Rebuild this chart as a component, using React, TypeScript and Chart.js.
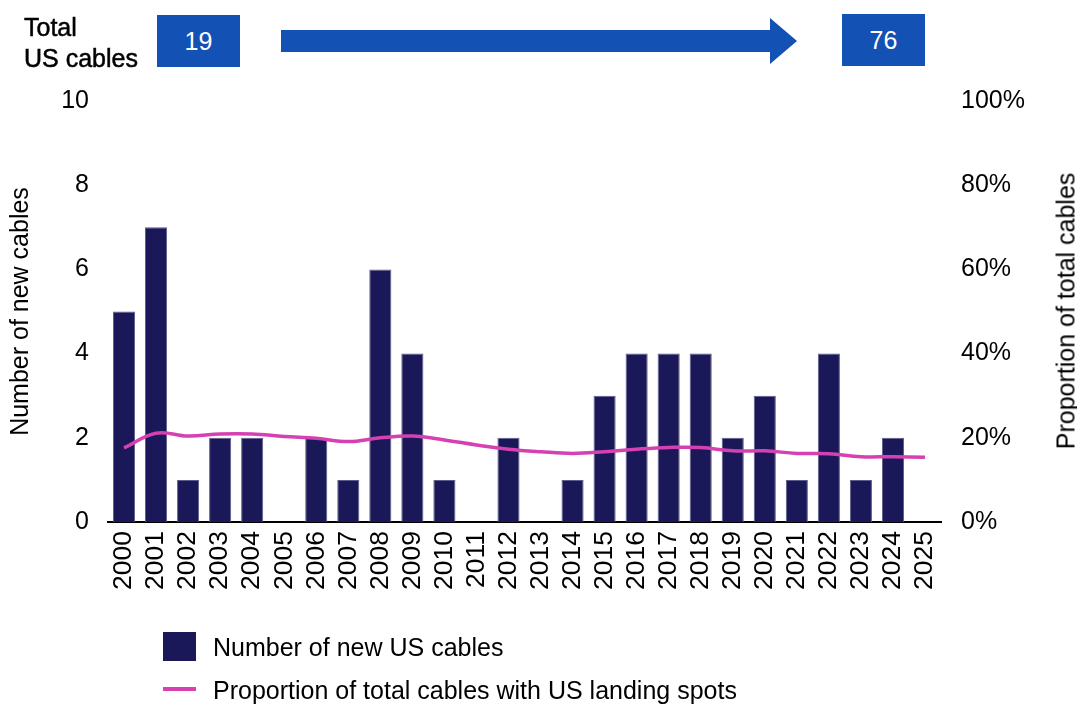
import React, { useEffect, useRef } from "react";
import { Chart, registerables } from "chart.js";

Chart.register(...registerables);

const years: string[] = [
  "2000", "2001", "2002", "2003", "2004", "2005", "2006", "2007", "2008", "2009",
  "2010", "2011", "2012", "2013", "2014", "2015", "2016", "2017", "2018", "2019",
  "2020", "2021", "2022", "2023", "2024", "2025",
];
const newCables: number[] = [5, 7, 1, 2, 2, 0, 2, 1, 6, 4, 1, 0, 2, 0, 1, 3, 4, 4, 4, 2, 3, 1, 4, 1, 2, 0];
const proportionPct: number[] = [
  17.6, 21.1, 20.4, 20.9, 20.9, 20.3, 19.9, 19.1, 20.0, 20.4,
  19.5, 18.3, 17.3, 16.7, 16.3, 16.7, 17.3, 17.7, 17.7, 16.9,
  16.9, 16.3, 16.2, 15.5, 15.5, 15.4,
];
const totalStart = "19";
const totalEnd = "76";
const barLabel = "Number of new US cables";
const lineLabel = "Proportion of total cables with US landing spots";
const leftTitle = "Number of new cables";
const rightTitle = "Proportion of total cables";

const FONT = "'Liberation Sans', Arial, sans-serif";
const NAVY = "#1B1859";
const PINK = "#D541B3";
const BLUE = "#1351B4";

export default function App() {
  const canvasRef = useRef<HTMLCanvasElement | null>(null);

  useEffect(() => {
    const canvas = canvasRef.current;
    if (!canvas) return;
    const chart = new Chart(canvas, {
      type: "bar",
      data: {
        labels: years,
        datasets: [
          {
            type: "line",
            label: lineLabel,
            data: proportionPct,
            yAxisID: "y2",
            borderColor: PINK,
            borderWidth: 3.5,
            pointRadius: 0,
            tension: 0.4,
            order: 0,
          } as any,
          {
            type: "bar",
            label: barLabel,
            data: newCables,
            yAxisID: "y",
            backgroundColor: NAVY,
            borderColor: "#5d5c8e",
            borderWidth: 1,
            categoryPercentage: 1,
            barPercentage: 0.69,
            order: 1,
          } as any,
        ],
      },
      options: {
        responsive: false,
        animation: false,
        devicePixelRatio: 1,
        layout: { padding: { top: 101, left: 0, right: 0, bottom: 0 } },
        plugins: {
          legend: { display: false },
          tooltip: { enabled: false },
        },
        scales: {
          x: {
            offset: true,
            grid: { display: false, drawTicks: false },
            border: { display: true, color: "#000", width: 2 },
            ticks: {
              autoSkip: false,
              minRotation: 90,
              maxRotation: 90,
              padding: 9,
              color: "#000",
              font: { family: FONT, size: 26.5 },
            },
            afterFit: (s: any) => {
              s.height = 183;
            },
          },
          y: {
            position: "left",
            min: 0,
            max: 10,
            grid: { display: false, drawTicks: false },
            border: { display: false },
            ticks: {
              stepSize: 2,
              padding: 19,
              color: "#000",
              font: { family: FONT, size: 25 },
            },
            title: {
              display: true,
              text: leftTitle,
              color: "#000",
              font: { family: FONT, size: 25, lineHeight: 1 },
              padding: { top: 9, bottom: 0 },
            },
            afterFit: (s: any) => {
              s.width = 108;
            },
          },
          y2: {
            position: "right",
            min: 0,
            max: 100,
            grid: { display: false, drawTicks: false },
            border: { display: false },
            ticks: {
              stepSize: 20,
              padding: 20,
              color: "#000",
              font: { family: FONT, size: 25 },
              callback: (v: any) => v + "%",
            },
            afterFit: (s: any) => {
              s.width = 136;
            },
          },
        },
      },
    });
    return () => chart.destroy();
  }, []);

  const boxStyle = (left: number, top: number): React.CSSProperties => ({
    position: "absolute",
    left,
    top,
    width: 83,
    height: 52,
    background: BLUE,
    color: "#fff",
    fontFamily: FONT,
    fontSize: 25,
    display: "flex",
    alignItems: "center",
    justifyContent: "center",
  });

  return (
    <div style={{ position: "absolute", left: 0, top: 0, width: 1077, height: 705, background: "#fff", overflow: "hidden" }}>
      <canvas ref={canvasRef} width={1077} height={705} style={{ position: "absolute", left: 0, top: 0, width: 1077, height: 705 }} />
      <div
        style={{
          position: "absolute",
          left: 1066,
          top: 311,
          transform: "translate(-50%, -50%) rotate(-90deg)",
          fontFamily: FONT,
          fontSize: 25,
          lineHeight: "25px",
          color: "#000",
          whiteSpace: "nowrap",
        }}
      >
        {rightTitle}
      </div>
      <div
        style={{
          position: "absolute",
          left: 24,
          top: 12,
          fontFamily: FONT,
          fontSize: 25,
          lineHeight: "31px",
          color: "#000",
          WebkitTextStroke: "0.5px #000",
        }}
      >
        Total
        <br />
        US cables
      </div>
      <div style={boxStyle(157, 15)}>{totalStart}</div>
      <svg style={{ position: "absolute", left: 0, top: 0 }} width={1077} height={90}>
        <polygon points="281,30 770,30 770,18 797,41 770,64 770,52 281,52" fill={BLUE} />
      </svg>
      <div style={boxStyle(842, 14)}>{totalEnd}</div>
      <div style={{ position: "absolute", left: 163, top: 632, width: 33, height: 29, background: NAVY }} />
      <div style={{ position: "absolute", left: 213, top: 632, height: 30, lineHeight: "30px", fontFamily: FONT, fontSize: 25, color: "#000", whiteSpace: "nowrap" }}>
        {barLabel}
      </div>
      <div style={{ position: "absolute", left: 163, top: 687, width: 33, height: 4, background: PINK }} />
      <div style={{ position: "absolute", left: 213, top: 675, height: 30, lineHeight: "30px", fontFamily: FONT, fontSize: 25, color: "#000", whiteSpace: "nowrap" }}>
        {lineLabel}
      </div>
    </div>
  );
}
